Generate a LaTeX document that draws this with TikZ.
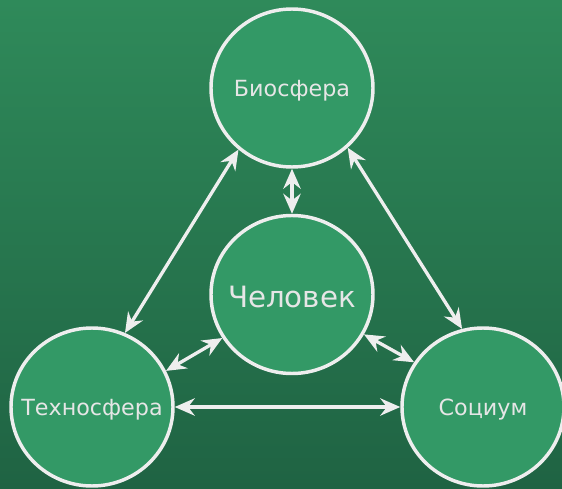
\documentclass[tikz,border=0pt]{standalone}
\usepackage{fontspec}
\setmainfont{DejaVu Sans}
\usetikzlibrary{shapes.geometric,arrows.meta}
\definecolor{bgtop}{HTML}{2F8A5A}
\definecolor{bgbot}{HTML}{1F6343}
\definecolor{cfill}{HTML}{339966}
\definecolor{lineclr}{HTML}{EEEEEE}
\definecolor{txt}{HTML}{E6E6E6}
\newcommand{\ztext}[2][6.5pt]{\raisebox{-#1}[0pt][0pt]{\makebox[0pt]{#2}}}
\tikzset{
  sphere/.style={ellipse, draw=lineclr, line width=2.6pt, fill=cfill,
    minimum width=121.5pt, minimum height=118.5pt, inner sep=0pt,
    text=txt, font=\fontsize{16.7pt}{19pt}\selectfont},
  link/.style={draw=lineclr, line width=2.5pt,
    {Stealth[length=15pt,width=13pt,inset=5pt]}-{Stealth[length=15pt,width=13pt,inset=5pt]}}
}
\begin{document}
\begin{tikzpicture}[x=0.75pt,y=-0.75pt]
\shade[top color=bgtop, bottom color=bgbot] (0,0) rectangle (562,489);
\useasboundingbox (0,0) rectangle (562,489);
\node[sphere] (bio) at (292,88) {\ztext{Биосфера}};
\node[sphere, font=\fontsize{22pt}{25pt}\selectfont] (hum) at (292,294.5) {\ztext[10pt]{Человек}};
\node[sphere] (tech) at (92,407) {\ztext{Техносфера}};
\node[sphere] (soc) at (483,407) {\ztext{Социум}};
\draw[link] (bio.270) -- (hum.90);
\draw[link] (bio.229) -- (tech.66);
\draw[link] (bio.313) -- (soc.105);
\draw[link] (hum.212) -- (tech.26);
\draw[link] (hum.331) -- (soc.147);
\draw[link] (tech.0) -- (soc.180);
\end{tikzpicture}
\end{document}
